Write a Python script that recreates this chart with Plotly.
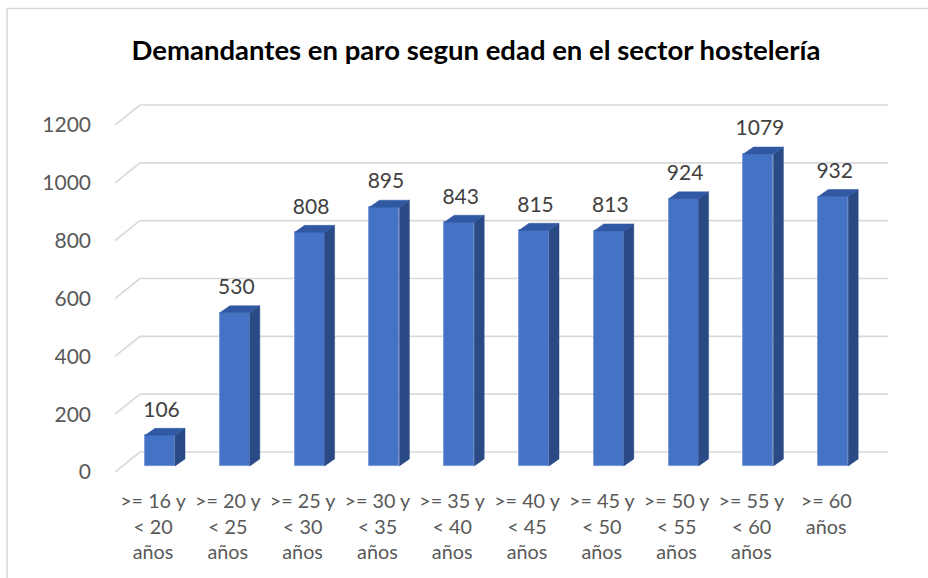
import plotly.graph_objects as go

# ---------------- data ----------------
tick_labels = [
    ">= 16 y<br>< 20<br>años",
    ">= 20 y<br>< 25<br>años",
    ">= 25 y<br>< 30<br>años",
    ">= 30 y<br>< 35<br>años",
    ">= 35 y<br>< 40<br>años",
    ">= 40 y<br>< 45<br>años",
    ">= 45 y<br>< 50<br>años",
    ">= 50 y<br>< 55<br>años",
    ">= 55 y<br>< 60<br>años",
    ">= 60<br>años",
]
values = [106, 530, 808, 895, 843, 815, 813, 924, 1079, 932]
y_ticks = [0, 200, 400, 600, 800, 1000, 1200]
title_text = "Demandantes en paro segun edad en el sector hostelería"

# ---------------- geometry (pixel -> data scale) ----------------
W, H = 928, 578
ML, MB = 115, 100               # plot area: x 115..928, y 0..478
plot_h = H - MB
k = 57.83 / 200.0               # px per value unit
px_cat = 74.8                   # px per category
c0_px = 160.0                   # pixel x of first bar front centre
zero_px = 472.0                 # pixel y of value 0 (front edge)

x_lo = (ML - c0_px) / px_cat
x_hi = (W - c0_px) / px_cat
y_lo = (zero_px - plot_h) / k
y_hi = zero_px / k

hw = 15.0 / px_cat              # half bar width
dx = 10.0 / px_cat              # depth x offset
dy = 7.0 / k                    # depth y offset
base = 6.0 / k                  # bar floor above front edge
wall_dy = 20.0 / k              # back wall offset
wall_x0 = (140 - c0_px) / px_cat
wall_x1 = (888 - c0_px) / px_cat
label_gap = 24.0 / k

fig = go.Figure()

# gridlines (3D back wall with slanted floor part), below all traces
for t in y_ticks:
    fig.add_shape(type="line", xref="x", yref="y", layer="below",
                  x0=x_lo, y0=t, x1=wall_x0, y1=t + wall_dy,
                  line=dict(color="#d9d9d9", width=1.7))
    fig.add_shape(type="line", xref="x", yref="y", layer="below",
                  x0=wall_x0, y0=t + wall_dy, x1=wall_x1, y1=t + wall_dy,
                  line=dict(color="#d9d9d9", width=1.7))

xs = list(range(len(values)))

# front faces
fig.add_trace(go.Bar(x=xs, y=values, base=[base] * len(values), width=2 * hw,
                     marker=dict(color="#4472C4", line=dict(color="#6d8fd0", width=0.8)),
                     hoverinfo="skip", showlegend=False))

# side faces
sx, sy = [], []
for i, v in zip(xs, values):
    r = i + hw
    sx += [r, r + dx, r + dx, r, r, None]
    sy += [base, base + dy, base + v + dy, base + v, base, None]
fig.add_trace(go.Scatter(x=sx, y=sy, mode="lines", fill="toself",
                         fillcolor="#2a4a86", line=dict(color="#2a4a86", width=0.5),
                         hoverinfo="skip", showlegend=False))

# top faces
tx, ty = [], []
for i, v in zip(xs, values):
    l, r = i - hw, i + hw
    top = base + v
    tx += [l, l + dx, r + dx, r, l, None]
    ty += [top, top + dy, top + dy, top, top, None]
fig.add_trace(go.Scatter(x=tx, y=ty, mode="lines", fill="toself",
                         fillcolor="#3159a3", line=dict(color="#3159a3", width=0.5),
                         hoverinfo="skip", showlegend=False))

# data labels
fig.add_trace(go.Scatter(x=[i + 0.02 for i in xs],
                         y=[base + v + label_gap for v in values],
                         mode="text", text=[str(v) for v in values],
                         textposition="middle center",
                         textfont=dict(family="Lato", size=21, color="#404040"),
                         hoverinfo="skip", showlegend=False))

# chart border
fig.add_shape(type="path", xref="paper", yref="paper",
              path="M %f %f L %f %f L %f %f" % ((7 - ML) / (W - ML), 1 - 600 / plot_h,
                                                (7 - ML) / (W - ML), 1 - 8.5 / plot_h,
                                                1.05, 1 - 8.5 / plot_h),
              line=dict(color="#d9d9d9", width=1.5))

fig.update_layout(
    width=W, height=H,
    margin=dict(l=ML, r=0, t=0, b=MB, pad=0),
    paper_bgcolor="white", plot_bgcolor="white",
    title=dict(text="<b>" + title_text + "</b>", xref="container", yref="container",
               x=476 / W, y=1 - 50 / H, xanchor="center", yanchor="middle",
               font=dict(family="Lato", size=27.5, color="#000000")),
    xaxis=dict(range=[x_lo, x_hi], showgrid=False, zeroline=False, showline=False,
               tickmode="array", tickvals=[i - 7.0 / px_cat for i in xs],
               ticktext=tick_labels, ticks="", ticklabelstandoff=9,
               tickfont=dict(family="Lato", size=19.8, color="#595959"),
               fixedrange=True),
    yaxis=dict(range=[y_lo, y_hi], showgrid=False, zeroline=False, showline=False,
               tickmode="array", tickvals=y_ticks, ticks="", ticklabelstandoff=23,
               tickfont=dict(family="Lato", size=21, color="#595959"),
               fixedrange=True),
    bargap=0,
)

fig.write_html("out.html", config={"displayModeBar": False},
               post_script="document.body.style.margin='0';document.body.style.overflow='hidden';")
